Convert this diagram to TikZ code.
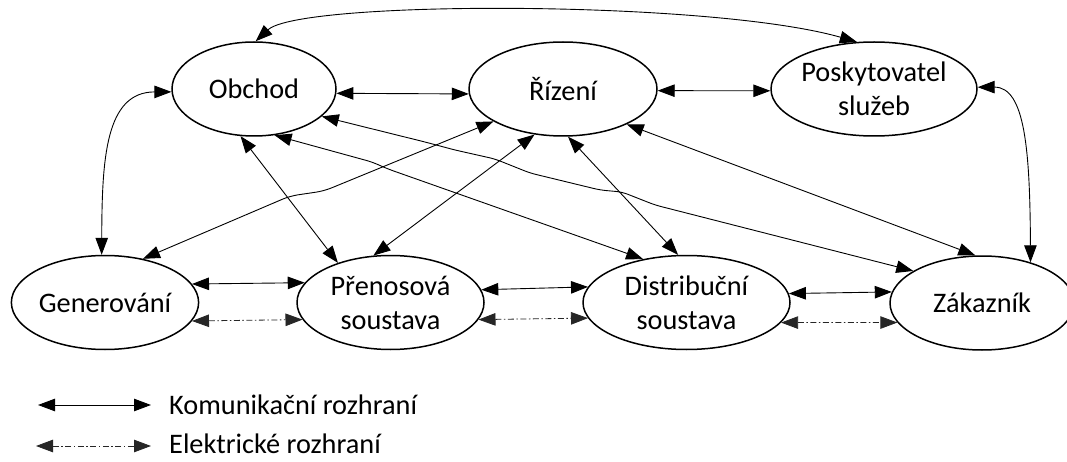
\documentclass[tikz,border=0pt]{standalone}
\usepackage{fontspec}
\setmainfont{Carlito}
\usetikzlibrary{shapes.geometric,arrows.meta}
\begin{document}
\begin{tikzpicture}[x=1pt,y=1pt,
  >={Triangle[length=17pt,width=12.5pt]},
  every node/.style={font=\fontsize{28.3}{34}\selectfont},
  unit/.style={ellipse,draw,line width=1.5pt,inner sep=0pt,minimum height=94pt,align=center},
  comm/.style={<->,line width=0.9pt},
  elec/.style={<->,line width=0.8pt,draw=black!85,dash pattern=on 6pt off 2.5pt on 1.5pt off 2.5pt},
  legendtext/.style={anchor=base west,inner sep=0pt}
]
\useasboundingbox (0,0) rectangle (1067,461);

% units of the power system
\node[unit,minimum width=164pt] (obchod) at (254,372) {Obchod};
\node[unit,minimum width=188pt] (rizeni) at (563,372) {Řízení};
\node[unit,minimum width=206pt,inner xsep=-10pt] (posk) at (874,372) {Poskytovatel\\služeb};
\node[unit,minimum width=186pt] (gen) at (105,158.5) {Generování};
\node[unit,minimum width=187pt] (pren) at (390.5,158.5) {Přenosová\\soustava};
\node[unit,minimum width=207pt] (distr) at (686.5,158.5) {Distribuční\\soustava};
\node[unit,minimum width=184pt] (zak) at (982,158) {Zákazník};

% communication interfaces, upper row
\draw[comm] (obchod.357) -- (rizeni.183);
\draw[comm] (rizeni.359) -- (posk.181);
\draw[comm] (obchod.88) .. controls (300,461) and (710,461) .. (posk.110);
\draw[comm] (obchod.182) .. controls (105,369) and (102,301) .. (gen.94);
\draw[comm] (posk.1) .. controls (1025,374) and (1030,311) .. (zak.40);

% communication and electrical interfaces, lower row
\draw[comm] (gen.12) -- (pren.167.5);
\draw[elec] (gen.348.7) -- (pren.191.8);
\draw[comm] (pren.8.6) -- (distr.171);
\draw[elec] (pren.349.6) -- (distr.189.4);
\draw[comm] (distr.5.2) -- (zak.173.7);
\draw[elec] (distr.348.5) -- (zak.193);

% communication interfaces between the rows
\draw[comm] (obchod.254) -- (pren.143.5);
\draw[comm] (rizeni.238) -- (pren.110.7);
\draw[comm] (rizeni.276) -- (distr.100);
\draw[comm] (rizeni.331.7) -- (zak.98.5);
\draw[comm,rounded corners=8pt] (rizeni.205.5) -- (324,270) -- (290,265) -- (gen.49.4);
\draw[comm,rounded corners=6pt] (obchod.294.5) -- (372,299) -- (388,292) -- (distr.135.6);
\draw[comm,rounded corners=6pt] (obchod.338) -- (425,319) -- (455,311) -- (495,302)
  -- (530,288) -- (600,271) -- (622,269) -- (655,256) -- (zak.155.7);

% legend
\coordinate (k1) at (38,56);
\coordinate (k2) at (151,56);
\draw[comm] (k1) -- (k2);
\node[legendtext] (ktext) at (169,47) {Komunikační rozhraní};
\coordinate (e1) at (36,15);
\coordinate (e2) at (151,15);
\draw[elec] (e1) -- (e2);
\node[legendtext] (etext) at (169,8) {Elektrické rozhraní};
\end{tikzpicture}
\end{document}
